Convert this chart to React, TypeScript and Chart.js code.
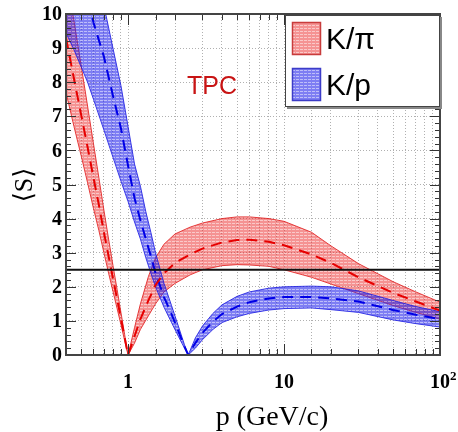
import { useEffect, useRef } from "react";
import { Chart, registerables } from "chart.js";

Chart.register(...registerables);

// K/π separation band: momentum (GeV/c), centre and band edges
const piMomenta = [0.4, 0.45, 0.5, 0.55, 0.6, 0.65, 0.7, 0.75, 0.8, 0.85, 0.9, 0.95, 1.0,
  1.1, 1.2, 1.35, 1.5, 1.7, 2, 2.5, 3, 4, 5, 6, 8, 10, 15, 20, 30, 50, 70, 100];
const piCenter = [9.3, 8.1, 7.05, 6.1, 5.2, 4.4, 3.6, 2.9, 2.25, 1.65, 1.07, 0.52, 0,
  0.55, 1.05, 1.6, 2.05, 2.4, 2.7, 2.95, 3.12, 3.3, 3.37, 3.38, 3.32, 3.22, 2.95, 2.7, 2.28, 1.82, 1.57, 1.3];
const piUpper = [11.2, 9.8, 8.5, 7.3, 6.2, 5.2, 4.25, 3.4, 2.63, 1.93, 1.25, 0.61, 0,
  0.8, 1.5, 2.3, 2.85, 3.25, 3.55, 3.75, 3.87, 4.0, 4.05, 4.05, 4.0, 3.92, 3.6, 3.2, 2.68, 2.15, 1.85, 1.55];
const piLower = [7.7, 6.7, 5.85, 5.05, 4.3, 3.65, 3.0, 2.4, 1.87, 1.37, 0.89, 0.43, 0,
  0.35, 0.75, 1.15, 1.5, 1.85, 2.1, 2.35, 2.5, 2.62, 2.65, 2.64, 2.6, 2.5, 2.28, 2.08, 1.8, 1.45, 1.25, 1.05];

// K/p separation band
const kpMomenta = [0.4, 0.45, 0.5, 0.55, 0.6, 0.7, 0.8, 0.9, 1.0, 1.1, 1.2, 1.3, 1.4, 1.5, 1.7, 1.9, 2.1, 2.3, 2.43,
  2.7, 3, 3.5, 4, 5, 6, 8, 10, 15, 20, 30, 50, 70, 100];
const kpCenter = [13.5, 12.3, 11.4, 10.6, 9.75, 8.75, 7.6, 6.65, 5.55, 4.6, 3.95, 3.4, 2.9, 2.4, 1.7, 1.2, 0.7, 0.25, 0,
  0.35, 0.65, 0.98, 1.2, 1.42, 1.55, 1.66, 1.7, 1.7, 1.66, 1.57, 1.32, 1.18, 1.05];
const kpUpper = [15.5, 14.2, 13.2, 12.4, 11.4, 10.25, 9.0, 7.9, 6.7, 5.6, 4.95, 4.2, 3.6, 3.0, 2.1, 1.45, 0.85, 0.3, 0,
  0.5, 0.85, 1.22, 1.47, 1.72, 1.85, 1.96, 2.0, 2.02, 2.0, 1.88, 1.6, 1.42, 1.27];
const kpLower = [9.45, 8.95, 8.45, 8.0, 7.5, 6.6, 5.8, 5.1, 4.5, 3.9, 3.4, 2.85, 2.4, 2.0, 1.4, 0.95, 0.55, 0.2, 0,
  0.2, 0.45, 0.75, 0.95, 1.12, 1.22, 1.32, 1.36, 1.38, 1.33, 1.25, 1.03, 0.92, 0.82];

const separationCut = 2.5;
const momentumRange = [0.4, 100];
const separationRange = [0, 10];
const yTickValues = [0, 1, 2, 3, 4, 5, 6, 7, 8, 9, 10];
// labelled decades: base text and optional exponent
const xTickLabels: [number, string, string][] = [[1, "1", ""], [10, "10", ""], [100, "10", "2"]];
const legendLabels = ["K/\u03C0", "K/p"];
const detectorLabel = "TPC";
const xTitle = "p (GeV/c)";
const yTitle = "\u27E8S\u27E9";

const RED = "rgb(230,0,0)";
const BLUE = "rgb(0,0,230)";
const SERIF = "'Liberation Serif', 'Times New Roman', serif";

function stripedFill(base: string, stripe: string): CanvasPattern | string {
  const tile = document.createElement("canvas");
  tile.width = 4;
  tile.height = 3;
  const t = tile.getContext("2d");
  if (!t) return base;
  t.fillStyle = base;
  t.fillRect(0, 0, 4, 3);
  t.clearRect(0, 1, 3, 1);
  t.fillStyle = stripe;
  t.fillRect(0, 1, 3, 1);
  return t.createPattern(tile, "repeat") ?? base;
}

const pts = (xs: number[], ys: number[]) => xs.map((x, i) => ({ x, y: ys[i] }));

export default function App() {
  const canvasRef = useRef<HTMLCanvasElement | null>(null);

  useEffect(() => {
    const canvas = canvasRef.current;
    if (!canvas) return;
    const redFill = stripedFill("rgba(235,40,40,0.5)", "rgba(235,40,40,0.25)");
    const blueFill = stripedFill("rgba(40,40,235,0.6)", "rgba(40,40,235,0.3)");

    const overlay = {
      id: "overlay",
      afterDraw(chart: any) {
        const { ctx, chartArea } = chart;
        const { left, right, top, bottom } = chartArea;
        const xs = chart.scales.x;
        const ys = chart.scales.y;
        ctx.save();

        // inward tick marks on all four sides
        ctx.strokeStyle = "#333";
        ctx.lineWidth = 1;
        ctx.beginPath();
        for (const t of xs.ticks) {
          const v = t.value;
          const px = Math.round(xs.getPixelForValue(v)) + 0.5;
          const major = xTickLabels.some((d) => d[0] === v);
          const len = major ? 11 : 6;
          ctx.moveTo(px, bottom);
          ctx.lineTo(px, bottom - len);
          ctx.moveTo(px, top);
          ctx.lineTo(px, top + len);
        }
        for (let k = 0; k <= 50; k++) {
          const v = k / 5;
          const py = Math.round(ys.getPixelForValue(v)) + 0.5;
          const len = k % 5 === 0 ? 10 : 5;
          ctx.moveTo(left, py);
          ctx.lineTo(left + len, py);
          ctx.moveTo(right, py);
          ctx.lineTo(right - len, py);
        }
        ctx.stroke();

        // frame
        ctx.strokeStyle = "#444";
        ctx.lineWidth = 2;
        ctx.strokeRect(left, top, right - left, bottom - top);

        // y tick labels
        ctx.fillStyle = "#000";
        ctx.font = `bold 20px ${SERIF}`;
        ctx.textAlign = "right";
        ctx.textBaseline = "middle";
        for (const v of yTickValues) {
          ctx.fillText(String(v), left - 4, ys.getPixelForValue(v) + 1);
        }

        // x tick labels (decades), exponent as superscript
        ctx.textBaseline = "alphabetic";
        for (const [v, base, exp] of xTickLabels) {
          const px = xs.getPixelForValue(v);
          ctx.font = `bold 20px ${SERIF}`;
          ctx.textAlign = "center";
          ctx.fillText(base, px, 388);
          if (exp) {
            const w = ctx.measureText(base).width;
            ctx.font = `bold 13px ${SERIF}`;
            ctx.textAlign = "left";
            ctx.fillText(exp, px + w / 2, 380);
          }
        }

        // detector label
        ctx.fillStyle = "#c81414";
        ctx.font = "25px 'Liberation Sans', Arial, sans-serif";
        ctx.textBaseline = "middle";
        ctx.textAlign = "left";
        ctx.fillText(detectorLabel, 187, 87);

        // legend
        const lx = 285, ly = 15, lw = right - 285, lh = 92;
        ctx.fillStyle = "#888";
        ctx.fillRect(lx + 2, ly + 2, lw, lh);
        ctx.fillStyle = "#fff";
        ctx.fillRect(lx, ly, lw, lh);
        ctx.strokeStyle = "#444";
        ctx.lineWidth = 1;
        ctx.strokeRect(lx + 0.5, ly + 0.5, lw - 1, lh - 1);
        const fills = [redFill, blueFill];
        const edges = ["rgb(200,60,60)", "rgb(60,60,200)"];
        legendLabels.forEach((label, i) => {
          const sy = 22 + i * 46;
          ctx.fillStyle = "#fff";
          ctx.fillRect(292, sy, 29, 33);
          ctx.fillStyle = fills[i];
          ctx.fillRect(292, sy, 29, 33);
          ctx.strokeStyle = edges[i];
          ctx.lineWidth = 1.5;
          ctx.strokeRect(292.5, sy + 0.5, 28, 32);
          ctx.fillStyle = "#000";
          ctx.font = "30px 'Liberation Sans', Arial, sans-serif";
          ctx.textBaseline = "alphabetic";
          ctx.fillText(label, 326, sy + 27);
        });

        // axis titles
        ctx.fillStyle = "#000";
        ctx.font = `28px ${SERIF}`;
        ctx.textAlign = "center";
        ctx.textBaseline = "alphabetic";
        ctx.fillText(xTitle, 272, 425);
        ctx.translate(25, 185);
        ctx.rotate(-Math.PI / 2);
        ctx.textBaseline = "middle";
        ctx.font = "26px 'Liberation Serif', 'DejaVu Serif', serif";
        ctx.fillText(yTitle, 0, 0);
        ctx.restore();
      },
    };

    const band = (data: any[], color: string, fill: any, bg: any, order: number) => ({
      data,
      borderColor: color,
      borderWidth: 1,
      pointRadius: 0,
      fill,
      backgroundColor: bg,
      tension: 0,
      clip: 0,
      order,
    });

    const chart = new Chart(canvas, {
      type: "line",
      data: {
        datasets: [
          { ...band(pts(piMomenta, piUpper), "rgba(225,30,30,0.85)", "+1", redFill, 4) },
          { ...band(pts(piMomenta, piLower), "rgba(225,30,30,0.85)", false, "transparent", 4) },
          { ...band(pts(kpMomenta, kpUpper), "rgba(30,30,225,0.85)", "+1", blueFill, 3) },
          { ...band(pts(kpMomenta, kpLower), "rgba(30,30,225,0.85)", false, "transparent", 3) },
          {
            data: pts(piMomenta, piCenter), borderColor: RED, borderWidth: 2, borderDash: [11, 7],
            pointRadius: 0, fill: false, clip: 0, order: 2,
          },
          {
            data: pts(kpMomenta, kpCenter), borderColor: BLUE, borderWidth: 2, borderDash: [11, 7],
            pointRadius: 0, fill: false, clip: 0, order: 2,
          },
          {
            data: pts(momentumRange, [separationCut, separationCut]), borderColor: "#111", borderWidth: 2,
            pointRadius: 0, fill: false, clip: 0, order: 1,
          },
        ],
      },
      options: {
        animation: false,
        responsive: false,
        events: [],
        layout: { padding: { left: 0, right: 18, top: 14, bottom: 0 } },
        plugins: { legend: { display: false }, tooltip: { enabled: false } },
        scales: {
          x: {
            type: "logarithmic",
            min: momentumRange[0],
            max: momentumRange[1],
            afterFit: (s: any) => { s.height = 77; },
            grid: { color: "#b0b0b0", lineWidth: 1, drawTicks: false },
            border: { display: false, dash: [1, 2] },
            ticks: { autoSkip: false, maxRotation: 0, color: "rgba(0,0,0,0)", callback: () => "" },
          },
          y: {
            min: separationRange[0],
            max: separationRange[1],
            afterFit: (s: any) => { s.width = 66; },
            grid: { color: "#b0b0b0", lineWidth: 1, drawTicks: false },
            border: { display: false, dash: [1, 2] },
            ticks: { stepSize: 1, color: "rgba(0,0,0,0)", callback: () => "" },
          },
        },
      },
      plugins: [overlay],
    } as any);

    return () => chart.destroy();
  }, []);

  return (
    <div style={{ position: "fixed", left: 0, top: 0, width: 458, height: 432, background: "#fff" }}>
      <canvas ref={canvasRef} width={458} height={432} style={{ display: "block" }} />
    </div>
  );
}
